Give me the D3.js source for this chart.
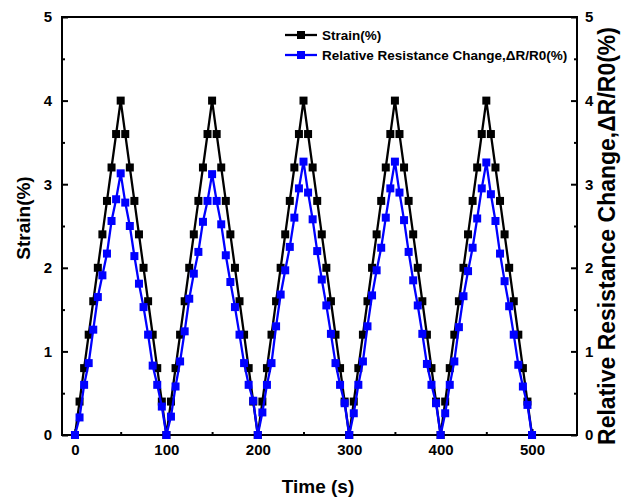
<!DOCTYPE html>
<html><head><meta charset="utf-8">
<script src="https://cdn.jsdelivr.net/npm/d3@7"></script>
<style>
body{margin:0;background:#fff;}
text{font-family:"Liberation Sans",Arial,sans-serif;font-weight:bold;}
</style></head>
<body>
<svg id="chart" width="625" height="500"></svg>
<script>
const time = [0,5,10,15,20,25,30,35,40,45,50,55,60,65,70,75,80,85,90,95,
100,105,110,115,120,125,130,135,140,145,150,155,160,165,170,175,180,185,190,195,
200,205,210,215,220,225,230,235,240,245,250,255,260,265,270,275,280,285,290,295,
300,305,310,315,320,325,330,335,340,345,350,355,360,365,370,375,380,385,390,395,
400,405,410,415,420,425,430,435,440,445,450,455,460,465,470,475,480,485,490,495,500];
const strain = [0,0.4,0.8,1.2,1.6,2.0,2.4,2.8,3.2,3.6,4.0,3.6,3.2,2.8,2.4,2.0,1.6,1.2,0.8,0.4,
0,0.4,0.8,1.2,1.6,2.0,2.4,2.8,3.2,3.6,4.0,3.6,3.2,2.8,2.4,2.0,1.6,1.2,0.8,0.4,
0,0.4,0.8,1.2,1.6,2.0,2.4,2.8,3.2,3.6,4.0,3.6,3.2,2.8,2.4,2.0,1.6,1.2,0.8,0.4,
0,0.4,0.8,1.2,1.6,2.0,2.4,2.8,3.2,3.6,4.0,3.6,3.2,2.8,2.4,2.0,1.6,1.2,0.8,0.4,
0,0.4,0.8,1.2,1.6,2.0,2.4,2.8,3.2,3.6,4.0,3.6,3.2,2.8,2.4,2.0,1.6,1.2,0.8,0.4,0];
const resistance = [0,0.21,0.60,0.86,1.26,1.65,1.91,2.17,2.56,2.82,3.13,2.78,2.50,2.14,1.81,1.53,1.20,0.83,0.60,0.34,
0,0.22,0.58,0.88,1.24,1.63,1.93,2.19,2.55,2.80,3.12,2.80,2.52,2.15,1.83,1.53,1.20,0.86,0.60,0.41,
0,0.27,0.60,0.86,1.30,1.68,1.97,2.25,2.60,2.95,3.27,2.90,2.58,2.20,1.86,1.55,1.21,0.86,0.60,0.38,
0,0.26,0.60,0.88,1.30,1.67,1.97,2.24,2.60,2.95,3.27,2.90,2.57,2.19,1.85,1.55,1.21,0.85,0.60,0.38,
0,0.26,0.60,0.88,1.29,1.66,1.96,2.24,2.59,2.95,3.26,2.88,2.56,2.17,1.84,1.54,1.20,0.84,0.58,0.36,0];
const xTicks = [0,100,200,300,400,500];
const xMinor = [50,150,250,350,450];
const yTicks = [0,1,2,3,4,5];
const yMinor = [0.5,1.5,2.5,3.5,4.5];
const seriesNames = ["Strain(%)","Relative Resistance Change,\u0394R/R0(%)"];
const colors = ["#000000","#0000ff"];

const svg = d3.select("#chart");
const L=62, R=577, T=17, B=435;
const x = d3.scaleLinear().domain([-14.2,549.2]).range([L,R]);
const y = d3.scaleLinear().domain([0,5]).range([B,T]);
const y2 = d3.scaleLinear().domain([0,5]).range([B,T]);

function styleAxis(g){
  g.select(".domain").remove();
  g.selectAll(".tick line").attr("stroke","#000").attr("stroke-width",2);
  g.selectAll(".tick text").attr("fill","#000").style("font-size","15px").style("font-weight","bold")
   .style("font-family","'Liberation Sans',Arial,sans-serif");
}
// left
svg.append("g").attr("transform",`translate(${L},0)`)
  .call(d3.axisLeft(y).tickValues(yTicks).tickSize(-6).tickPadding(10).tickFormat(d3.format("d"))).call(styleAxis);
svg.append("g").attr("transform",`translate(${L},0)`)
  .call(d3.axisLeft(y).tickValues(yMinor).tickSize(-3).tickFormat("")).call(styleAxis);
// right
svg.append("g").attr("transform",`translate(${R},0)`)
  .call(d3.axisRight(y2).tickValues(yTicks).tickSize(-6).tickPadding(8).tickFormat(d3.format("d"))).call(styleAxis);
svg.append("g").attr("transform",`translate(${R},0)`)
  .call(d3.axisRight(y2).tickValues(yMinor).tickSize(-3).tickFormat("")).call(styleAxis);
// bottom
svg.append("g").attr("transform",`translate(0,${B})`)
  .call(d3.axisBottom(x).tickValues(xTicks).tickSize(-6).tickPadding(9).tickFormat(d3.format("d"))).call(styleAxis);
svg.append("g").attr("transform",`translate(0,${B})`)
  .call(d3.axisBottom(x).tickValues(xMinor).tickSize(-3).tickFormat("")).call(styleAxis);

// frame
svg.append("rect").attr("x",L).attr("y",T).attr("width",R-L).attr("height",B-T)
  .attr("fill","none").attr("stroke","#000").attr("stroke-width",2);

// series
const ds = [strain, resistance];
const scales = [y, y2];
ds.forEach((vals,i)=>{
  const pts = time.map((t,k)=>[t,vals[k]]);
  const line = d3.line().x(d=>x(d[0])).y(d=>scales[i](d[1]));
  const g = svg.append("g");
  g.append("path").datum(pts).attr("d",line).attr("fill","none").attr("stroke",colors[i]).attr("stroke-width",2.3);
  g.selectAll("rect").data(pts).join("rect")
    .attr("x",d=>x(d[0])-4).attr("y",d=>scales[i](d[1])-4)
    .attr("width",8).attr("height",8).attr("fill",colors[i]);
});

// legend
const legY=[35,55];
seriesNames.forEach((n,i)=>{
  svg.append("line").attr("x1",285).attr("x2",317).attr("y1",legY[i]).attr("y2",legY[i])
    .attr("stroke",colors[i]).attr("stroke-width",2.3);
  svg.append("rect").attr("x",301-4).attr("y",legY[i]-4).attr("width",8).attr("height",8).attr("fill",colors[i]);
  svg.append("text").attr("x",322).attr("y",legY[i]+5).style("font-size","13.5px").text(n);
});

// titles
svg.append("text").attr("transform","translate(30,218) rotate(-90)").attr("text-anchor","middle")
  .style("font-size","19px").text("Strain(%)");
svg.append("text").attr("x",318).attr("y",493).attr("text-anchor","middle")
  .style("font-size","19px").text("Time (s)");
svg.append("text").attr("transform","translate(615,236) rotate(-90)").attr("text-anchor","middle")
  .style("font-size","23px").text(seriesNames[1]);
</script>
</body></html>
